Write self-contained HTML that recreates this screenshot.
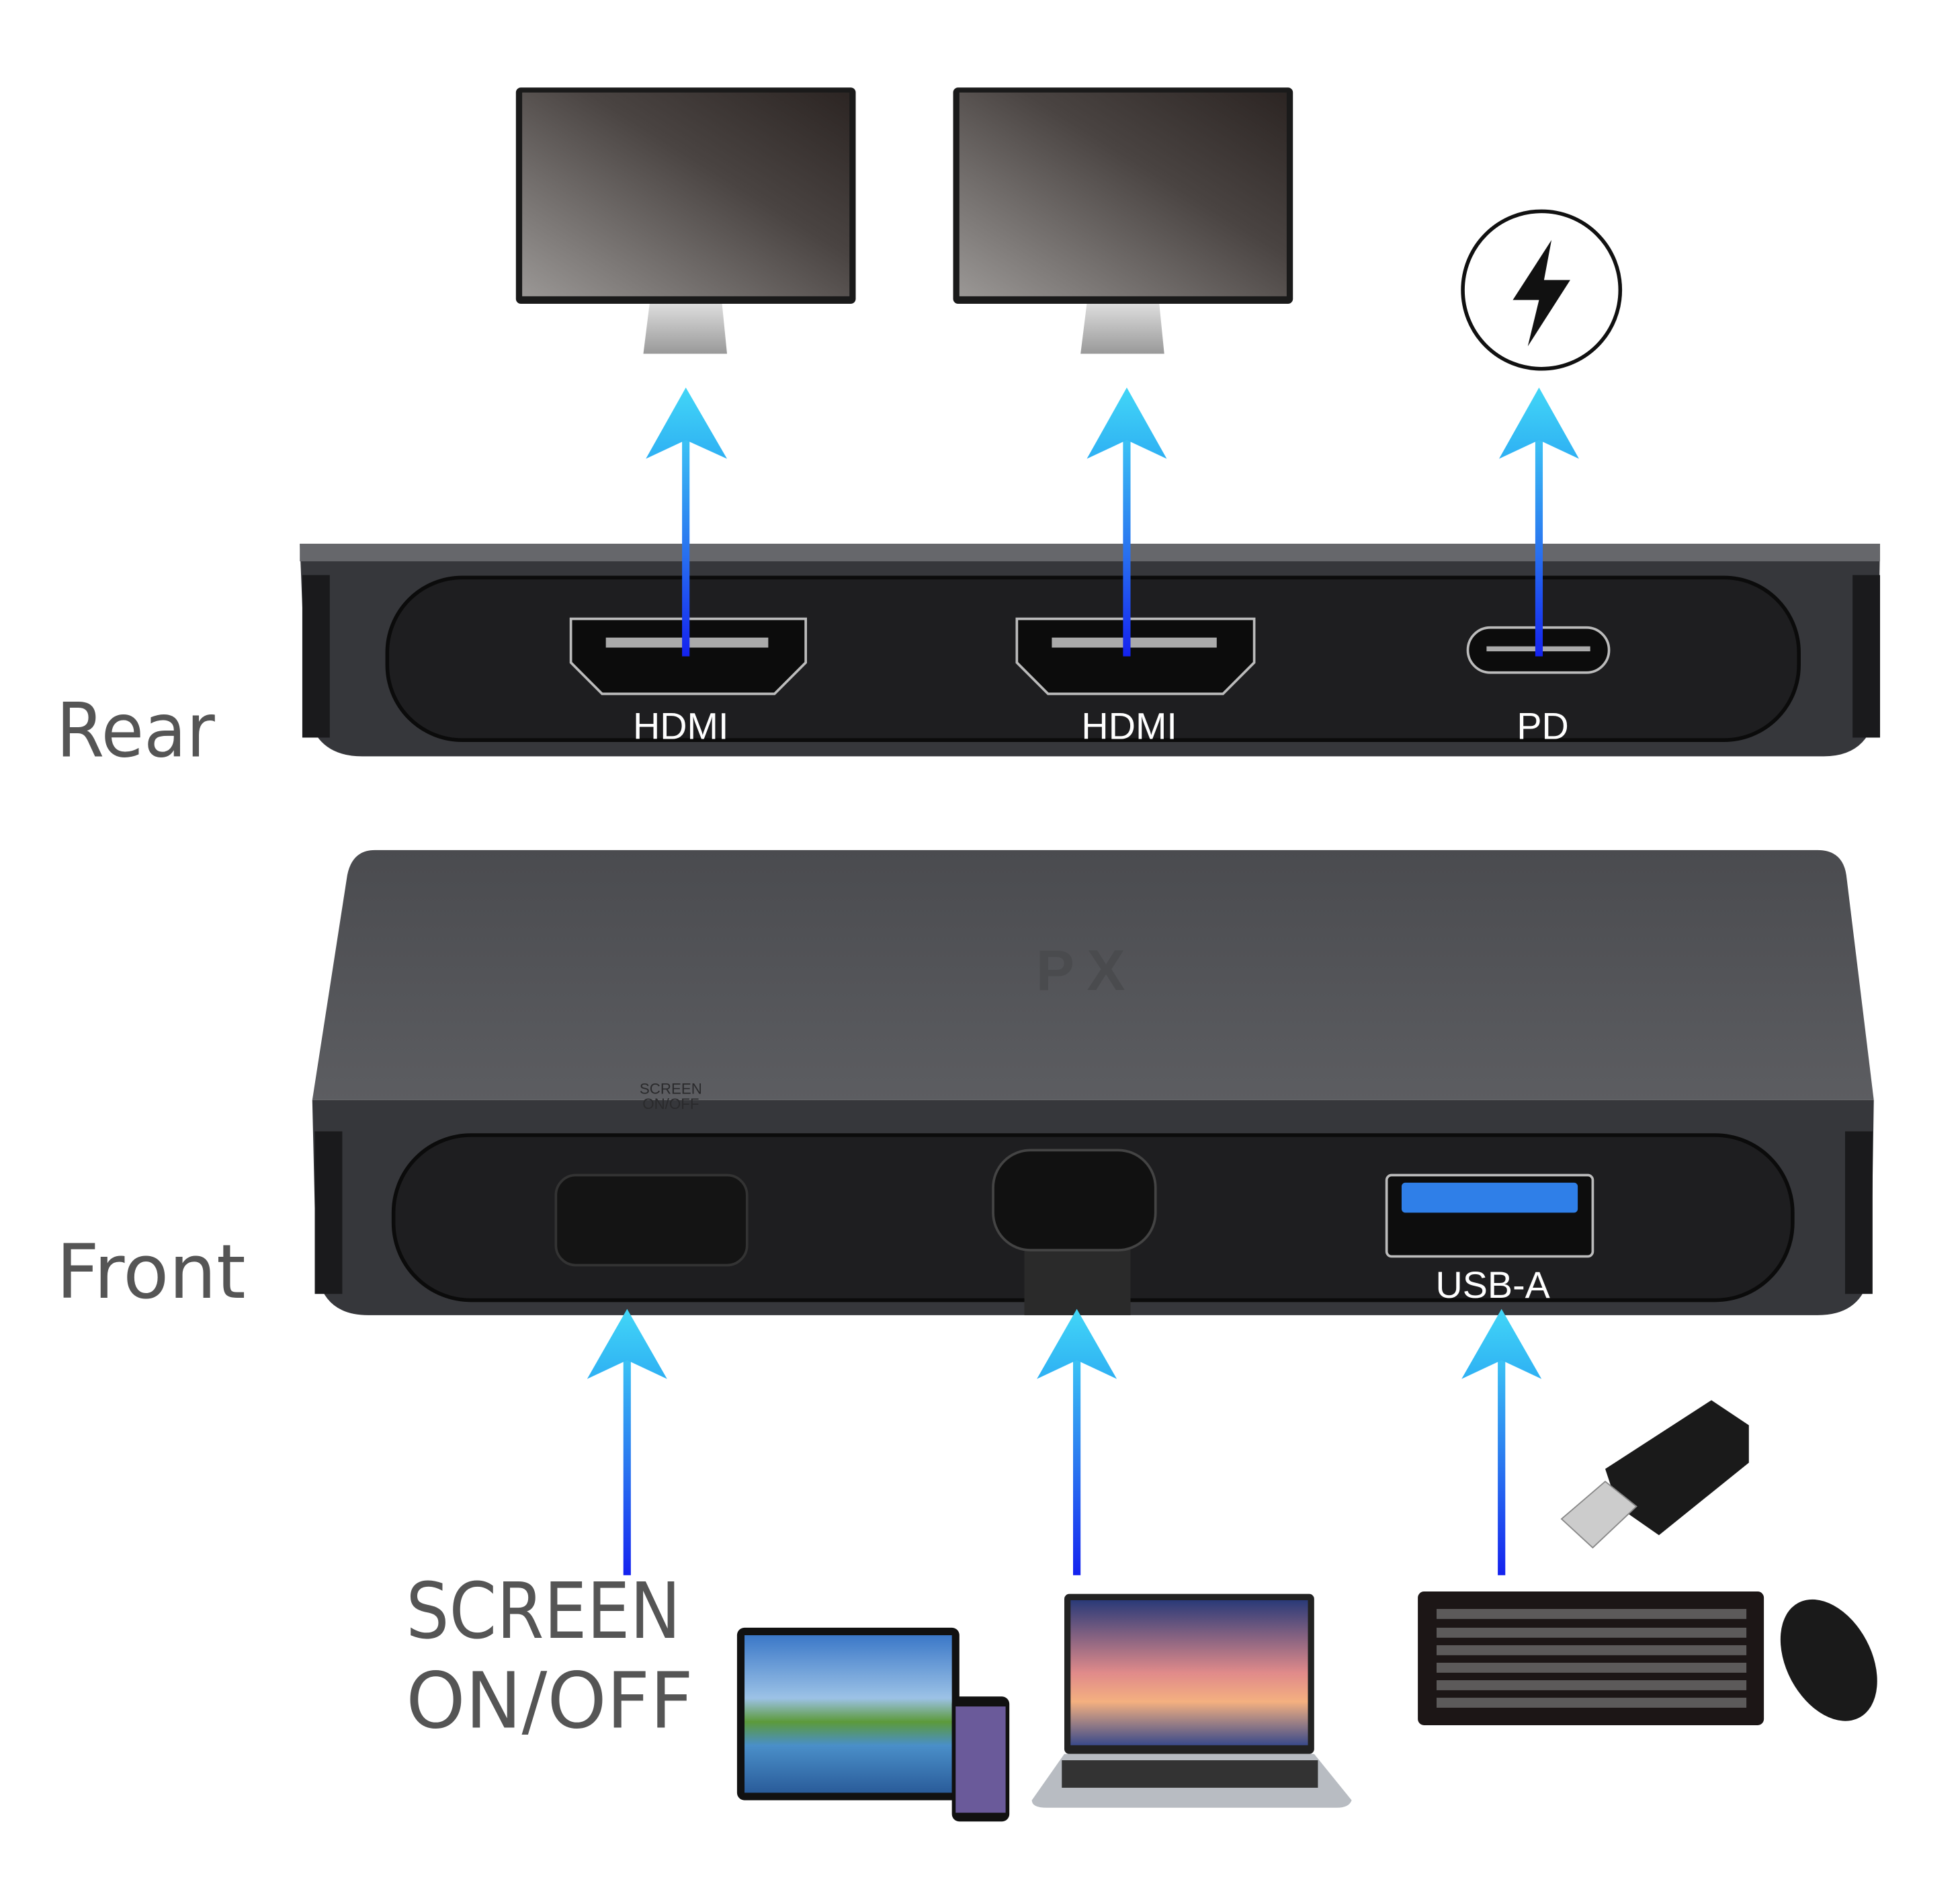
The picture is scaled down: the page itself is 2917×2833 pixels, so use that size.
<!DOCTYPE html>
<html><head><meta charset="utf-8"><style>html,body{margin:0;padding:0;background:#fff;}svg{display:block}</style></head>
<body>
<svg width="2917" height="2833" viewBox="0 0 1569 1523" preserveAspectRatio="none" xmlns="http://www.w3.org/2000/svg" font-family="Liberation Sans, sans-serif">
<defs>
<linearGradient id="shaft" x1="0" y1="0" x2="0" y2="1"><stop offset="0" stop-color="#3cc8f5"/><stop offset="0.5" stop-color="#2a78f0"/><stop offset="1" stop-color="#1422ef"/></linearGradient>
<linearGradient id="head" x1="0" y1="0" x2="0" y2="1"><stop offset="0" stop-color="#42d6f7"/><stop offset="1" stop-color="#2eb0f3"/></linearGradient>
<linearGradient id="scr" x1="0" y1="1" x2="1" y2="0"><stop offset="0" stop-color="#9a9795"/><stop offset="0.6" stop-color="#4a4442"/><stop offset="1" stop-color="#2c2523"/></linearGradient>
<linearGradient id="stand" x1="0" y1="0" x2="0" y2="1"><stop offset="0" stop-color="#ddd"/><stop offset="1" stop-color="#999"/></linearGradient>
<linearGradient id="top" x1="0" y1="0" x2="0" y2="1"><stop offset="0" stop-color="#4a4b4f"/><stop offset="1" stop-color="#5c5d61"/></linearGradient>
<linearGradient id="land" x1="0" y1="0" x2="0" y2="1"><stop offset="0" stop-color="#3b78c8"/><stop offset="0.4" stop-color="#9cc2e6"/><stop offset="0.55" stop-color="#5c9a3a"/><stop offset="0.7" stop-color="#4a8fc9"/><stop offset="1" stop-color="#2a5c9a"/></linearGradient>
<linearGradient id="fuji" x1="0" y1="0" x2="0" y2="1"><stop offset="0" stop-color="#2a3a78"/><stop offset="0.5" stop-color="#e08a8a"/><stop offset="0.7" stop-color="#f4b080"/><stop offset="1" stop-color="#3a4a8a"/></linearGradient>
</defs>
<g>
<rect x="413" y="70" width="272" height="173" rx="4" fill="#1a1a1a"/>
<rect x="418" y="74" width="262" height="163" fill="url(#scr)"/>
<path d="M520 243 H578 L582 283 H515 Z" fill="url(#stand)"/>
<rect x="763" y="70" width="272" height="173" rx="4" fill="#1a1a1a"/>
<rect x="768" y="74" width="262" height="163" fill="url(#scr)"/>
<path d="M870 243 H928 L932 283 H865 Z" fill="url(#stand)"/>
<circle cx="1234" cy="232" r="63" fill="#fff" stroke="#111" stroke-width="3"/>
<path d="M1242 192 L1211 240 L1232 240 L1223 277 L1257 224 L1236 224 Z" fill="#111"/>
</g>
<path d="M240 435 H1505 L1503 560 Q1500 605 1460 605 H290 Q248 605 245 560 Z" fill="#36373b"/>
<rect x="240" y="435" width="1265" height="14" fill="#66676b"/>
<g fill="#1a1a1c"><rect x="242" y="460" width="22" height="130"/><rect x="1483" y="460" width="22" height="130"/></g>
<rect x="310" y="462" width="1130" height="130" rx="60" fill="#1e1e20" stroke="#0b0b0b" stroke-width="3"/>
<g fill="#0c0c0c" stroke="#bbb" stroke-width="2">
<path d="M457 495 H645 V530 L620 555 H482 L457 530 Z"/>
<path d="M814 495 H1004 V530 L979 555 H839 L814 530 Z"/>
<rect x="1175" y="502" width="113" height="36" rx="18"/>
</g>
<g fill="#aaa"><rect x="485" y="510" width="130" height="8"/><rect x="842" y="510" width="132" height="8"/><rect x="1190" y="517" width="83" height="4"/></g>
<g fill="#fff" font-size="30" text-anchor="middle"><text x="545" y="591">HDMI</text><text x="904" y="591">HDMI</text><text x="1235" y="591">PD</text></g>
<text x="45" y="605" font-size="60" fill="#555" font-family="DejaVu Sans, sans-serif" textLength="127" lengthAdjust="spacingAndGlyphs">Rear</text>
<path d="M300 680 H1455 Q1475 680 1478 700 L1500 880 H250 L278 700 Q282 680 300 680 Z" fill="url(#top)"/>
<text x="870" y="792" font-size="46" fill="#4a4b4e" text-anchor="middle" font-weight="bold" letter-spacing="10">PX</text>
<path d="M250 880 H1500 L1498 1010 Q1495 1052 1455 1052 H295 Q255 1052 253 1010 Z" fill="#36373b"/>
<g fill="#1a1a1c"><rect x="252" y="905" width="22" height="130"/><rect x="1477" y="905" width="22" height="130"/></g>
<rect x="315" y="908" width="1120" height="132" rx="62" fill="#1e1e20" stroke="#0b0b0b" stroke-width="3"/>
<rect x="445" y="940" width="153" height="72" rx="16" fill="#141414" stroke="#333" stroke-width="2"/>
<text x="537" y="875" font-size="12" fill="#2a2a2c" text-anchor="middle">SCREEN</text>
<text x="537" y="887" font-size="12" fill="#2a2a2c" text-anchor="middle">ON/OFF</text>
<rect x="820" y="980" width="85" height="72" fill="#2a2a2a"/>
<rect x="795" y="920" width="130" height="80" rx="30" fill="#111" stroke="#444" stroke-width="2"/>
<rect x="1110" y="940" width="165" height="65" rx="4" fill="#0d0d0d" stroke="#bbb" stroke-width="2"/>
<rect x="1122" y="946" width="141" height="24" rx="3" fill="#2f7fe8"/>
<text x="1195" y="1038" font-size="30" fill="#fff" text-anchor="middle">USB-A</text>
<text x="45" y="1038" font-size="60" fill="#555" font-family="DejaVu Sans, sans-serif">Front</text>
<g>
<rect x="546" y="345" width="6" height="180" fill="url(#shaft)"/><path d="M549 310 L582 367 L549 352 L517 367 Z" fill="url(#head)"/>
<rect x="899" y="345" width="6" height="180" fill="url(#shaft)"/><path d="M902 310 L934 367 L902 352 L870 367 Z" fill="url(#head)"/>
<rect x="1229" y="345" width="6" height="180" fill="url(#shaft)"/><path d="M1232 310 L1264 367 L1232 352 L1200 367 Z" fill="url(#head)"/>
<rect x="499" y="1082" width="6" height="178" fill="url(#shaft)"/><path d="M502 1047 L534 1103 L502 1088 L470 1103 Z" fill="url(#head)"/>
<rect x="859" y="1082" width="6" height="178" fill="url(#shaft)"/><path d="M862 1047 L894 1103 L862 1088 L830 1103 Z" fill="url(#head)"/>
<rect x="1199" y="1082" width="6" height="178" fill="url(#shaft)"/><path d="M1202 1047 L1234 1103 L1202 1088 L1170 1103 Z" fill="url(#head)"/>
</g>
<g font-size="62" fill="#555" font-family="DejaVu Sans, sans-serif"><text x="325" y="1310" textLength="220" lengthAdjust="spacingAndGlyphs">SCREEN</text><text x="325" y="1382" textLength="230" lengthAdjust="spacingAndGlyphs">ON/OFF</text></g>
<rect x="590" y="1302" width="178" height="138" rx="6" fill="#111"/>
<rect x="596" y="1308" width="166" height="126" fill="url(#land)"/>
<rect x="762" y="1357" width="46" height="100" rx="6" fill="#111"/>
<rect x="765" y="1365" width="40" height="85" fill="#6a5a9a"/>
<rect x="852" y="1275" width="200" height="128" rx="4" fill="#222"/>
<rect x="857" y="1280" width="190" height="116" fill="url(#fuji)"/>
<path d="M852 1403 H1052 L1082 1440 Q1080 1446 1070 1446 H838 Q826 1446 826 1440 Z" fill="#b8bcc2"/>
<rect x="850" y="1408" width="205" height="22" fill="#333"/>
<rect x="1135" y="1273" width="277" height="107" rx="5" fill="#1c1616"/>
<g fill="#777"><rect x="1150" y="1287" width="248" height="8" opacity="0.7"/><rect x="1150" y="1302" width="248" height="8" opacity="0.7"/><rect x="1150" y="1316" width="248" height="8" opacity="0.7"/><rect x="1150" y="1330" width="248" height="8" opacity="0.7"/><rect x="1150" y="1344" width="248" height="8" opacity="0.7"/><rect x="1150" y="1358" width="248" height="8" opacity="0.7"/></g>
<ellipse cx="1464" cy="1328" rx="34" ry="52" transform="rotate(-28 1464 1328)" fill="#1a1a1a"/>
<path d="M1285 1175 L1370 1120 L1400 1140 L1400 1170 L1328 1228 L1295 1205 Z" fill="#1a1a1a"/>
<path d="M1250 1215 L1285 1185 L1310 1205 L1275 1238 Z" fill="#ccc" stroke="#888"/>
</svg>
</body></html>
